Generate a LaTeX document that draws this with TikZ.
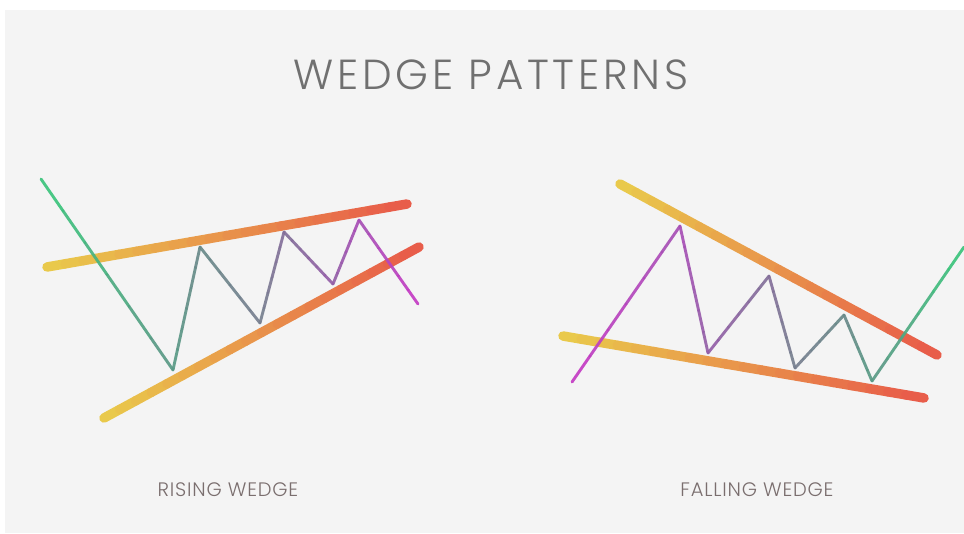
\documentclass[tikz,border=0pt]{standalone}
\usepackage{fontspec}
\usepackage{xcolor}
\usetikzlibrary{calc}
\newfontfamily\headfont{Poppins}[UprightFont=* Light, LetterSpace=9]
\newfontfamily\labelfont{Poppins}[UprightFont=* Light, LetterSpace=4]
\definecolor{panel}{HTML}{F4F4F4}
\definecolor{headgray}{HTML}{707070}
\definecolor{labgray}{HTML}{7A6E6E}
\definecolor{wyel}{HTML}{E9C94B}
\definecolor{wred}{HTML}{E8574A}
\definecolor{zc0}{HTML}{3CC47C}
\definecolor{zc1}{HTML}{5A9A86}
\definecolor{zc2}{HTML}{6A8A8A}
\definecolor{zc3}{HTML}{788090}
\definecolor{zc4}{HTML}{84709A}
\definecolor{zc5}{HTML}{9460A8}
\definecolor{zc6}{HTML}{A850B6}
\definecolor{zc7}{HTML}{C43CC4}

\begin{document}
\begin{tikzpicture}[x=1pt, y=-1pt,
      band/.style={line width=9.5pt, line cap=round},
      zig/.style={line width=2.9pt, line cap=round, opacity=0.92},
      lab/.style={font=\labelfont\fontsize{19.5}{22}\selectfont, text=labgray}
    ]
    \useasboundingbox (0,0) rectangle (964,533);
    \fill[white] (0,0) rectangle (964,533);
    \fill[panel] (5,10) rectangle (964,533);

    \node[font=\headfont\fontsize{42}{46}\selectfont, text=headgray] (title) at (491,75) {WEDGE PATTERNS};

    % trend lines
    \foreach \n/\x/\y in {ru1/47/267, ru2/407/204, rl1/104/418, rl2/419/247,
                          fu1/620/184, fu2/937/355, fl1/563/336, fl2/924/398}
      \coordinate (\n) at (\x,\y);
    % price path
    \foreach \n/\x/\y in {r0/41/179, r1/173/370, r2/200/247, r3/260/323,
                          r4/284/232, r5/333/284, r6/359/220, r7/418/304,
                          f0/572/382, f1/680/226, f2/708/353, f3/769/276,
                          f4/795/368, f5/844/315, f6/872/381, f7/964/247}
      \coordinate (\n) at (\x,\y);

    \foreach \a/\b in {ru1/ru2, rl1/rl2, fu1/fu2, fl1/fl2}
      \foreach \i in {0,...,19} {
        \pgfmathtruncatemacro\m{100-5*\i}
        \draw[band, draw=wyel!\m!wred] ($(\a)!\i/20!(\b)$) -- ($(\a)!\i/20+0.05!(\b)$);
      }

    \foreach \p/\q/\c/\d in {r0/r1/zc0/zc1, r1/r2/zc1/zc2, r2/r3/zc2/zc3, r3/r4/zc3/zc4,
                             r4/r5/zc4/zc5, r5/r6/zc5/zc6, r6/r7/zc6/zc7,
                             f0/f1/zc7/zc6, f1/f2/zc6/zc5, f2/f3/zc5/zc4, f3/f4/zc4/zc3,
                             f4/f5/zc3/zc2, f5/f6/zc2/zc1, f6/f7/zc1/zc0}
      \foreach \i in {0,...,5} {
        \pgfmathtruncatemacro\m{100-20*\i}
        \draw[zig, draw=\c!\m!\d] ($(\p)!\i/6!(\q)$) -- ($(\p)!\i/6+1/6!(\q)$);
      }

    \node[lab] (rising) at (228,490) {RISING WEDGE};
    \node[lab] (falling) at (757,490) {FALLING WEDGE};
  \end{tikzpicture}
\end{document}
